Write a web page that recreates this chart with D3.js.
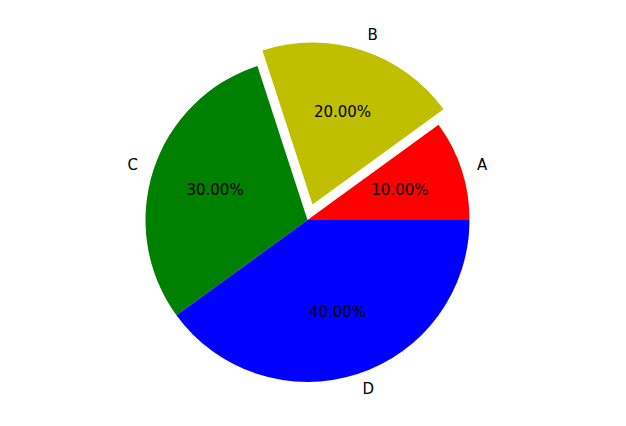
<!DOCTYPE html>
<html><head><meta charset="utf-8">
<script src="https://cdn.jsdelivr.net/npm/d3@7"></script>
<style>body{margin:0;background:#fff}svg{display:block}</style>
</head><body>
<script>
const labels = ["A", "B", "C", "D"];
const values = [10, 20, 30, 40];
const colors = ["#ff0000", "#bfbf00", "#008000", "#0000ff"];
const explode = [0, 0.1, 0, 0];

const W = 626, H = 426;
const cx = 307.5, cy = 220, r = 162;
const svg = d3.select("body").append("svg").attr("width", W).attr("height", H);

const total = d3.sum(values);
// matplotlib: counterclockwise starting at 3 o'clock. d3 angles clockwise from 12 o'clock.
const pie = d3.pie().sort(null).value(d => d)
  .startAngle(Math.PI / 2).endAngle(Math.PI / 2 - 2 * Math.PI);
const arcs = pie(values);
const arc = d3.arc().innerRadius(0).outerRadius(r);
const font = "DejaVu Sans, sans-serif";
const fs = 15;

arcs.forEach((a, i) => {
  const mid = (a.startAngle + a.endAngle) / 2;
  const ux = Math.sin(mid), uy = -Math.cos(mid);
  const ox = cx + explode[i] * r * ux, oy = cy + explode[i] * r * uy;
  const g = svg.append("g").attr("transform", `translate(${ox},${oy})`);
  g.append("path").attr("d", arc({startAngle: a.endAngle, endAngle: a.startAngle})).attr("fill", colors[i]);
  const lx = 1.1 * r * ux, ly = 1.1 * r * uy;
  g.append("text").attr("x", lx).attr("y", ly)
    .attr("text-anchor", lx >= 0 ? "start" : "end")
    .attr("dominant-baseline", "central")
    .attr("font-family", font).attr("font-size", fs).attr("fill", "#000")
    .text(labels[i]);
  g.append("text").attr("x", 0.6 * r * ux).attr("y", 0.6 * r * uy)
    .attr("text-anchor", "middle").attr("dominant-baseline", "central")
    .attr("font-family", font).attr("font-size", fs).attr("fill", "#000")
    .text((values[i] / total * 100).toFixed(2) + "%");
});
</script>
</body></html>
